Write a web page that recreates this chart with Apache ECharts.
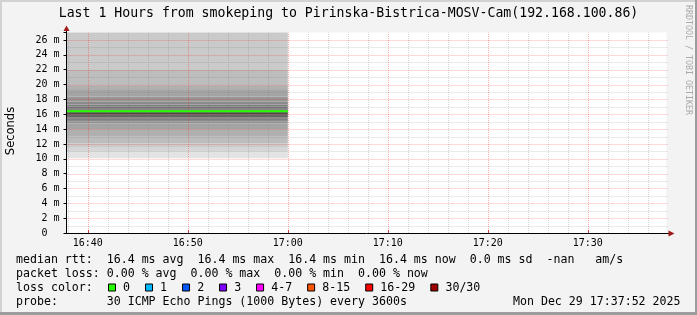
<!DOCTYPE html>
<html><head><meta charset="utf-8">
<script src="https://cdn.jsdelivr.net/npm/echarts@6/dist/echarts.min.js"></script>
<style>html,body{margin:0;padding:0;background:#f3f3f3;}#c{width:697px;height:315px;}</style>
</head><body><div id="c"></div>
<script>
// ---- data ----
const titleText = 'Last 1 Hours from smokeping to Pirinska-Bistrica-MOSV-Cam(192.168.100.86)';
const xStart = 37 + 52 / 60;   // minutes after 16:00 -> 16:37:52
const xEnd = 97 + 52 / 60;     // 17:37:52
const dataEnd = 60;            // 17:00
const xTickValues = [40, 50, 60, 70, 80, 90];
const xTickLabels = ['16:40', '16:50', '17:00', '17:10', '17:20', '17:30'];
const xMinorValues = [38, 42, 44, 46, 48, 52, 54, 56, 58, 62, 64, 66, 68, 72, 74, 76, 78, 82, 84, 86, 88, 92, 94, 96];
const yTickValues = [0, 2, 4, 6, 8, 10, 12, 14, 16, 18, 20, 22, 24, 26];
const yTickLabels = ['0  ', '2 m', '4 m', '6 m', '8 m', '10 m', '12 m', '14 m', '16 m', '18 m', '20 m', '22 m', '24 m', '26 m'];
const yMinorValues = [1, 3, 5, 7, 9, 11, 13, 15, 17, 19, 21, 23, 25];
const yMax = 27;
const medianRtt = 16.4;
// 30 sorted ping rtts (ms) for the one sample (16:00-17:00)
const pings = [10.07, 10.96, 11.5, 12.08, 12.98, 13.9, 14.78, 15.0, 15.23, 15.4,
               15.6, 15.9, 16.0, 16.2, 16.38, 16.42, 16.5, 16.55, 16.65, 16.8,
               17.0, 17.3, 17.7, 18.37, 19.27, 19.9, 21.97, 28, 29, 30];
const legendRtt = 'median rtt:  16.4 ms avg  16.4 ms max  16.4 ms min  16.4 ms now  0.0 ms sd  -nan   am/s';
const legendLoss = 'packet loss: 0.00 % avg  0.00 % max  0.00 % min  0.00 % now';
const lossLabels = ['0', '1', '2', '3', '4-7', '8-15', '16-29', '30/30'];
const lossColors = ['#26ff00', '#00b8ff', '#0059ff', '#7e00ff', '#ff00ff', '#ff5500', '#ff0000', '#a10000'];
const probeText = 'probe:       30 ICMP Echo Pings (1000 Bytes) every 3600s';
const dateText = 'Mon Dec 29 17:37:52 2025';

// ---- chart ----
const MONO = '"DejaVu Sans Mono", monospace';
const chart = echarts.init(document.getElementById('c'), null, {renderer: 'canvas', width: 697, height: 315});

function grey(k) { // band k (1-based) between pings[k-1] and pings[k]
  const ii = Math.min(k, 30 - k);
  const g = Math.floor(190 / 15 * (15 - ii)) + 50;
  return 'rgb(' + g + ',' + g + ',' + g + ')';
}

const series = [];
// smoke: nested bands drawn through the axes' scales
const bandData = [];
for (let k = 1; k < pings.length; k++) bandData.push([xStart, dataEnd, pings[k - 1], pings[k], k]);
series.push({type: 'custom', silent: true, z: 2, data: bandData,
  renderItem: function (params, api) {
    const cs = params.coordSys;
    const a = api.coord([api.value(0), api.value(3)]);
    const b = api.coord([api.value(1), api.value(2)]);
    const top = Math.max(a[1], cs.y);
    const bot = Math.min(b[1], cs.y + cs.height);
    if (bot <= top) return null;
    return {type: 'rect', shape: {x: a[0], y: top, width: b[0] - a[0], height: bot - top},
      style: {fill: grey(api.value(4))}};
  }});
function vGrid(values, color) {
  return {type: 'custom', silent: true, z: 3, data: values.map(v => [v, 0]),
    renderItem: function (params, api) {
      const a = api.coord([api.value(0), 0]);
      const b = api.coord([api.value(0), yMax]);
      const x = Math.round(a[0]) + 0.5;
      return {type: 'line', shape: {x1: x, y1: a[1], x2: x, y2: b[1]},
        style: {stroke: color, lineWidth: 1, lineDash: [1, 1]}};
    }};
}
function hGrid(values, color) {
  return {type: 'custom', silent: true, z: 3, data: values.map(v => [xStart, v]),
    renderItem: function (params, api) {
      const a = api.coord([xStart, api.value(1)]);
      const b = api.coord([xEnd, api.value(1)]);
      const y = Math.round(a[1]) + 0.5;
      return {type: 'line', shape: {x1: a[0], y1: y, x2: b[0] + 2, y2: y},
        style: {stroke: color, lineWidth: 1, lineDash: [1, 1]}};
    }};
}
const minorC = 'rgba(128,128,128,0.33)';
const majorC = 'rgba(255,0,0,0.3)';
series.push(vGrid(xMinorValues, minorC));
series.push(hGrid(yMinorValues, minorC));
series.push(vGrid(xTickValues, majorC));
series.push(hGrid(yTickValues.filter(v => v > 0), majorC));
series.push({type: 'line', silent: true, symbol: 'none', z: 5,
  lineStyle: {color: '#26ff00', width: 2},
  data: [[xStart, medianRtt], [dataEnd, medianRtt]]});

// legend graphics
const charW = 7.02;
const g = [];
g.push({type: 'rect', shape: {x: 0, y: 0, width: 2, height: 315}, style: {fill: '#d2d2d2'}, z: 1});
g.push({type: 'rect', shape: {x: 0, y: 0, width: 697, height: 2}, style: {fill: '#d2d2d2'}, z: 1});
g.push({type: 'rect', shape: {x: 695, y: 0, width: 2, height: 315}, style: {fill: '#9c9c9c'}, z: 1});
g.push({type: 'rect', shape: {x: 0, y: 312, width: 697, height: 3}, style: {fill: '#9c9c9c'}, z: 1});
g.push({type: 'text', x: 348.5, y: 14, style: {text: titleText, font: '13.2px ' + MONO, fill: '#000', align: 'center', verticalAlign: 'middle'}});
g.push({type: 'text', x: 11, y: 131, rotation: Math.PI / 2, style: {text: 'Seconds', font: '11.5px "DejaVu Sans", sans-serif', fill: '#000', align: 'center', verticalAlign: 'middle'}});
g.push({type: 'text', x: 688, y: 60, rotation: -Math.PI / 2, style: {text: 'RRDTOOL / TOBI OETIKER', font: '8.3px ' + MONO, fill: '#aaaaaa', align: 'center', verticalAlign: 'middle'}});
g.push({type: 'text', x: 16, y: 259.5, style: {text: legendRtt, font: '11.6px ' + MONO, fill: '#000', align: 'left', verticalAlign: 'middle'}});
g.push({type: 'text', x: 16, y: 273.5, style: {text: legendLoss, font: '11.6px ' + MONO, fill: '#000', align: 'left', verticalAlign: 'middle'}});
g.push({type: 'text', x: 16, y: 287.5, style: {text: 'loss color:', font: '11.6px ' + MONO, fill: '#000', align: 'left', verticalAlign: 'middle'}});
let bx = 108.5;
for (let i = 0; i < lossLabels.length; i++) {
  g.push({type: 'rect', shape: {x: bx, y: 284, width: 7, height: 7}, style: {fill: lossColors[i], stroke: '#000', lineWidth: 1}});
  const lx = bx + 14.6;
  g.push({type: 'text', x: lx, y: 287.5, style: {text: lossLabels[i], font: '11.6px ' + MONO, fill: '#000', align: 'left', verticalAlign: 'middle'}});
  bx = lx + lossLabels[i].length * charW + 15.4;
}
g.push({type: 'text', x: 16, y: 301.5, style: {text: probeText, font: '11.6px ' + MONO, fill: '#000', align: 'left', verticalAlign: 'middle'}});
g.push({type: 'text', x: 680.5, y: 301.5, style: {text: dateText, font: '11.6px ' + MONO, fill: '#000', align: 'right', verticalAlign: 'middle'}});
// axis extensions and arrows
g.push({type: 'line', shape: {x1: 66.5, y1: 33, x2: 66.5, y2: 29}, style: {stroke: '#000', lineWidth: 1}, z: 10});
g.push({type: 'polygon', shape: {points: [[63.5, 31], [69.5, 31], [66.5, 25.5]]}, style: {fill: '#a01818'}, z: 10});
g.push({type: 'line', shape: {x1: 666, y1: 233.5, x2: 670, y2: 233.5}, style: {stroke: '#000', lineWidth: 1}, z: 10});
g.push({type: 'polygon', shape: {points: [[668.5, 230.5], [668.5, 236.5], [674.5, 233.5]]}, style: {fill: '#a01818'}, z: 10});

const option = {
  animation: false,
  backgroundColor: '#f3f3f3',
  grid: {left: 66.5, right: 30.5, top: 32.6, bottom: 82, show: true, backgroundColor: '#ffffff', borderWidth: 0},
  xAxis: {type: 'value', min: xStart, max: xEnd, z: 6,
    splitLine: {show: false},
    axisLine: {show: true, onZero: false, lineStyle: {color: '#000', width: 1}},
    axisTick: {show: true, customValues: xTickValues, length: 3, inside: true, lineStyle: {color: '#d04040'}},
    axisLabel: {customValues: xTickValues, margin: 5, color: '#000', fontFamily: MONO, fontSize: 10,
      formatter: v => { const i = xTickValues.indexOf(Math.round(v)); return i >= 0 ? xTickLabels[i] : ''; }}
  },
  yAxis: {type: 'value', min: 0, max: yMax, interval: 2, z: 6,
    splitLine: {show: false},
    axisLine: {show: true, lineStyle: {color: '#000', width: 1}},
    axisTick: {show: true, length: 3, lineStyle: {color: '#000'}},
    axisLabel: {margin: 7, color: '#000', fontFamily: MONO, fontSize: 10,
      formatter: v => { const i = yTickValues.indexOf(v); return i >= 0 ? yTickLabels[i] : ''; }}
  },
  series: series,
  graphic: g
};
chart.setOption(option);
</script>
</body></html>
